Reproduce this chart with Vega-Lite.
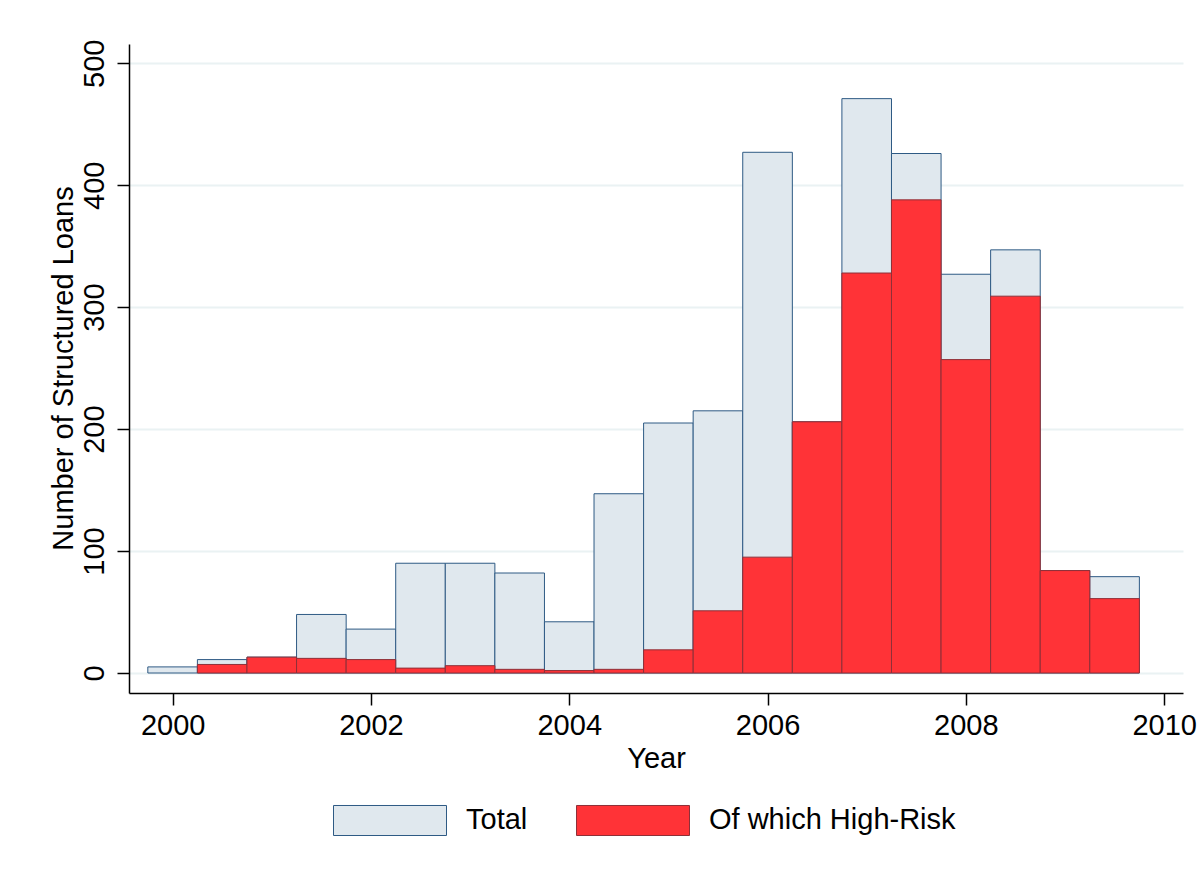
{
  "$schema": "https://vega.github.io/schema/vega-lite/v6.json",
  "width": 1054,
  "height": 649,
  "autosize": "none",
  "padding": {"left": 129, "top": 44, "right": 20, "bottom": 187},
  "background": "white",
  "data": {
    "values": [
      {"year": 2000.0, "series": "Total", "loans": 5},
      {"year": 2000.5, "series": "Total", "loans": 11},
      {"year": 2001.0, "series": "Total", "loans": 13},
      {"year": 2001.5, "series": "Total", "loans": 48},
      {"year": 2002.0, "series": "Total", "loans": 36},
      {"year": 2002.5, "series": "Total", "loans": 90},
      {"year": 2003.0, "series": "Total", "loans": 90},
      {"year": 2003.5, "series": "Total", "loans": 82},
      {"year": 2004.0, "series": "Total", "loans": 42},
      {"year": 2004.5, "series": "Total", "loans": 147},
      {"year": 2005.0, "series": "Total", "loans": 205},
      {"year": 2005.5, "series": "Total", "loans": 215},
      {"year": 2006.0, "series": "Total", "loans": 427},
      {"year": 2006.5, "series": "Total", "loans": 206},
      {"year": 2007.0, "series": "Total", "loans": 471},
      {"year": 2007.5, "series": "Total", "loans": 426},
      {"year": 2008.0, "series": "Total", "loans": 327},
      {"year": 2008.5, "series": "Total", "loans": 347},
      {"year": 2009.0, "series": "Total", "loans": 84},
      {"year": 2009.5, "series": "Total", "loans": 79},
      {"year": 2000.5, "series": "Of which High-Risk", "loans": 7},
      {"year": 2001.0, "series": "Of which High-Risk", "loans": 13},
      {"year": 2001.5, "series": "Of which High-Risk", "loans": 12},
      {"year": 2002.0, "series": "Of which High-Risk", "loans": 11},
      {"year": 2002.5, "series": "Of which High-Risk", "loans": 4},
      {"year": 2003.0, "series": "Of which High-Risk", "loans": 6},
      {"year": 2003.5, "series": "Of which High-Risk", "loans": 3},
      {"year": 2004.0, "series": "Of which High-Risk", "loans": 2},
      {"year": 2004.5, "series": "Of which High-Risk", "loans": 3},
      {"year": 2005.0, "series": "Of which High-Risk", "loans": 19},
      {"year": 2005.5, "series": "Of which High-Risk", "loans": 51},
      {"year": 2006.0, "series": "Of which High-Risk", "loans": 95},
      {"year": 2006.5, "series": "Of which High-Risk", "loans": 206},
      {"year": 2007.0, "series": "Of which High-Risk", "loans": 328},
      {"year": 2007.5, "series": "Of which High-Risk", "loans": 388},
      {"year": 2008.0, "series": "Of which High-Risk", "loans": 257},
      {"year": 2008.5, "series": "Of which High-Risk", "loans": 309},
      {"year": 2009.0, "series": "Of which High-Risk", "loans": 84},
      {"year": 2009.5, "series": "Of which High-Risk", "loans": 61}
    ]
  },
  "mark": {"type": "bar", "size": 49.6, "strokeWidth": 1, "clip": true},
  "encoding": {
    "x": {
      "field": "year",
      "type": "quantitative",
      "scale": {"domain": [1999.56, 2010.19], "nice": false, "zero": false, "padding": 0},
      "axis": {
        "values": [2000, 2002, 2004, 2006, 2008, 2010],
        "format": "d",
        "title": "Year",
        "grid": false,
        "labelPadding": 6,
        "titleY": 74,
        "titleBaseline": "alphabetic"
      }
    },
    "y": {
      "field": "loans",
      "type": "quantitative",
      "stack": null,
      "scale": {"domain": [-16.4, 515.8], "nice": false, "zero": false, "padding": 0},
      "axis": {
        "values": [0, 100, 200, 300, 400, 500],
        "title": "Number of Structured Loans",
        "grid": true,
        "labelAngle": -90,
        "labelAlign": "center",
        "labelBaseline": "alphabetic",
        "labelPadding": 14,
        "titleX": -57,
        "titleY": 324,
        "titleAlign": "center",
        "titleBaseline": "alphabetic",
        "titleAngle": -90
      }
    },
    "y2": {"datum": 0},
    "fill": {
      "field": "series",
      "type": "nominal",
      "scale": {"domain": ["Total", "Of which High-Risk"], "range": ["#E0E8EE", "#FF3337"]},
      "legend": {
        "orient": "none",
        "legendX": 204,
        "legendY": 719,
        "direction": "horizontal",
        "title": null
      }
    },
    "stroke": {
      "field": "series",
      "type": "nominal",
      "scale": {"domain": ["Total", "Of which High-Risk"], "range": ["#2E5A84", "#8E3038"]},
      "legend": {
        "orient": "none",
        "legendX": 204,
        "legendY": 719,
        "direction": "horizontal",
        "title": null
      }
    },
    "order": {"field": "series", "sort": "descending"}
  },
  "config": {
    "font": "Liberation Sans",
    "view": {"stroke": null},
    "axis": {
      "domainColor": "#000000",
      "domainWidth": 1.5,
      "tickColor": "#000000",
      "tickWidth": 1.5,
      "tickSize": 12,
      "labelFont": "Liberation Sans",
      "labelFontSize": 29,
      "labelColor": "#000000",
      "titleFont": "Liberation Sans",
      "titleFontSize": 29,
      "titleFontWeight": "normal",
      "titleColor": "#000000",
      "gridColor": "#EAF2F3",
      "gridWidth": 2,
      "labelFlush": false,
      "labelOverlap": false
    },
    "legend": {
      "symbolType": "M-1,-0.2655H1V0.2655H-1Z",
      "symbolSize": 12769,
      "symbolStrokeWidth": 1,
      "symbolOpacity": 1,
      "labelFont": "Liberation Sans",
      "labelFontSize": 29,
      "labelColor": "#000000",
      "labelOffset": 19,
      "labelLimit": 500,
      "columnPadding": 46,
      "padding": 0
    }
  }
}
